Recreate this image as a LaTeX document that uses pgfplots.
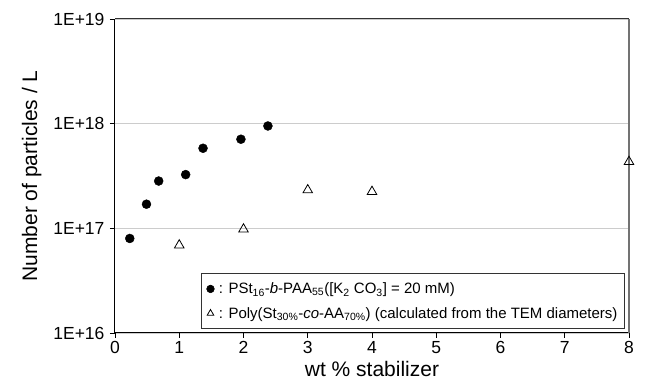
\documentclass[border=0pt]{standalone}
\usepackage{pgfplots}
\pgfplotsset{compat=1.18}
\usepackage{fontspec}
\setmainfont{Liberation Sans}
\begin{document}
\begin{tikzpicture}
\useasboundingbox (-115pt,-51pt) rectangle (530pt,333pt);
\begin{axis}[
  at={(0,0)}, anchor=south west,
  scale only axis, width=514pt, height=314pt,
  xmin=0, xmax=8, ymode=log, ymin=1e16, ymax=1e19,
  xtick={0,1,2,3,4,5,6,7,8},
  ytick={1e16,1e17,1e18,1e19},
  yticklabels={1E+16,1E+17,1E+18,1E+19},
  yminorticks=false,
  axis x line*=bottom, axis y line*=left,
  axis line style={-, black, line width=1pt},
  tick style={black, line width=0.8pt},
  major tick length=5pt,
  tick align=outside,
  ymajorgrids, grid style={black!20, line width=0.8pt},
  /pgf/number format/assume math mode=true,
  tick label style={font=\fontsize{17.5}{17.5}\selectfont},
  yticklabel style={xshift=-2pt},
  xlabel={wt \% stabilizer}, ylabel={Number of particles / L},
  label style={font=\fontsize{21}{21}\selectfont},
  xlabel style={yshift=-1pt},
  ylabel style={yshift=5pt},
  clip=false,
  legend style={at={(rel axis cs:0.992,0.013)}, anchor=south east,
    draw=black!80, line width=0.8pt, font=\fontsize{15}{16}\selectfont,
    row sep=8pt, inner xsep=5pt, inner ysep=7pt},
  legend cell align=left,
  legend image code/.code={\draw[#1, mark size=3.8pt, line width=0.6pt] plot coordinates {(0.15cm,0cm)};},
]
\draw[black!80, line width=1pt] (rel axis cs:0,1) -- (rel axis cs:1,1);
\draw[black!55, line width=1.2pt] (rel axis cs:1,0) -- (rel axis cs:1,1);
\addplot[only marks, mark=*, mark size=4.5pt, black] coordinates {
  (0.23,8.0e16) (0.49,1.70e17) (0.68,2.83e17) (1.10,3.26e17)
  (1.37,5.82e17) (1.96,7.1e17) (2.38,9.5e17)
};
\addlegendentry{\,: PSt\textsubscript{16}-\textit{b}-PAA\textsubscript{55}([K\textsubscript{2} CO\textsubscript{3}] = 20 mM)}
\addplot[only marks, mark=triangle, mark size=5.5pt, black, mark options={fill=white, line width=0.8pt}] coordinates {
  (1,6.9e16) (2,9.8e16) (3,2.32e17) (4,2.24e17) (8,4.33e17)
};
\addlegendentry{\,: Poly(St\textsubscript{30\%}-\textit{co}-AA\textsubscript{70\%}) (calculated from the TEM diameters)}
\end{axis}
\end{tikzpicture}
\end{document}
